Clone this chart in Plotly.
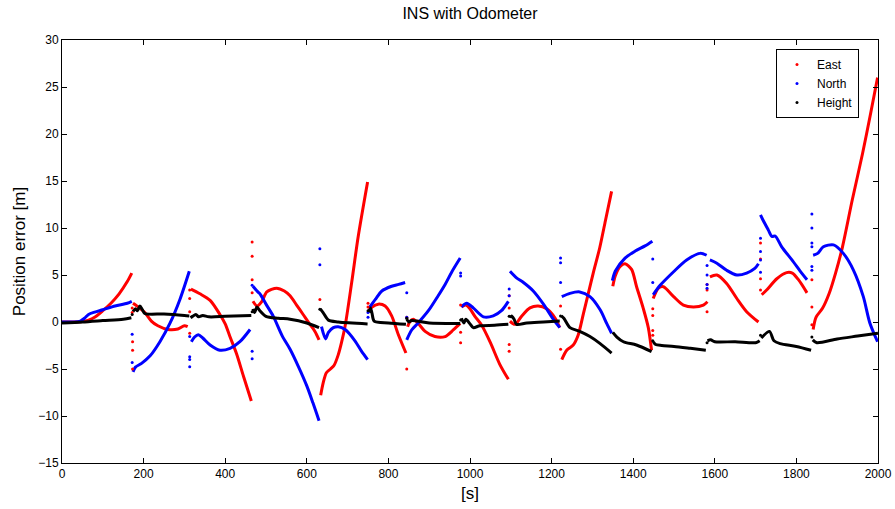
import plotly.graph_objects as go

N = None
# ---- East error (red): segments separated by None
east_t = [0, 25, 50, 65, 80, 100, 120, 140, 160, 171, N,
          174, 190, 203, 219, 235, 260, 284, 300, 308, N,
          316, 338, 363, 387, 400, 412, 428, 445, 464, N,
          468, 478, 490, 502, 526, 545, 559, 575, 591, 605, 620, 630, N,
          634, 640, 648, 658, 667, 677, 685, 694, 710, 726, 749, N,
          752, 760, 775, 792, 808, 824, 843, N,
          847, 852, 861, 873, 890, 914, 939, 959, 976, N,
          979, 990, 1000, 1012, 1028, 1050, 1073, 1094, N,
          1098, 1110, 1127, 1147, 1167, 1188, 1208, 1220, N,
          1225, 1237, 1253, 1265, 1278, 1290, 1302, 1318, 1332, 1347, N,
          1350, 1356, 1368, 1380, 1396, 1408, 1425, 1437, 1445, N,
          1449, 1462, 1474, 1499, 1523, 1548, 1572, 1582, N,
          1588, 1605, 1629, 1654, 1678, 1707, N,
          1715, 1727, 1752, 1776, 1790, 1805, 1826, N,
          1841, 1848, 1864, 1880, 1896, 1913, 1937, 1962, 1982, 1999]
east_v = [0, 0, 0.05, 0.2, 0.5, 1.2, 2.0, 3.0, 4.3, 5.2, N,
          2.0, 1.5, 1.0, 0.1, -0.4, -0.8, -0.75, -0.4, -0.5, N,
          3.5, 3.0, 2.3, 0.8, -0.2, -1.6, -3.4, -5.8, -8.4, N,
          2.2, 1.7, 2.2, 3.2, 3.6, 3.3, 2.8, 1.8, 0.8, -0.1, -1.0, -1.9, N,
          -7.8, -6.5, -5.4, -5.0, -4.6, -3.5, -2.2, -0.4, 4.2, 9.1, 14.9, N,
          1.2, 1.6, 1.9, 1.7, 0.65, -1.3, -3.3, N,
          -0.5, 0.0, 0.3, -0.15, -1.0, -1.55, -1.55, -0.85, -0.15, N,
          1.6, 1.8, 1.4, 0.6, -0.3, -2.2, -4.5, -6.1, N,
          0.1, -0.25, 0.65, 1.5, 1.7, 1.4, 0.45, -0.6, N,
          -4.0, -3.0, -2.45, -1.4, 0.9, 3.05, 5.2, 7.9, 10.8, 13.9, N,
          3.8, 4.9, 5.9, 6.2, 5.6, 3.8, 1.4, -0.6, -3.0, N,
          2.5, 3.6, 3.75, 2.7, 1.8, 1.6, 1.8, 2.15, N,
          4.8, 5.0, 4.1, 2.5, 1.1, 0.0, N,
          2.9, 3.4, 4.6, 5.25, 5.2, 4.5, 3.1, N,
          -0.8, 0.5, 1.45, 3.0, 5.2, 8.0, 13.0, 17.9, 22.2, 26.0]
# scattered East samples at the re-initialisation instants
east_jump_t = [172, 172, 173, 173, 173, 313, 313, 313, 313, 466, 466, 466, 466,
               632, 750, 750, 845, 845, 977, 977, 977, 1096, 1096, 1096, 1096,
               1222, 1222, 1448, 1448, 1448, 1448, 1581, 1581, 1581,
               1712, 1712, 1712, 1712, 1838, 1838, 1838]
east_jump_v = [1.5, 1.0, -2.1, -3.0, -5.0, 3.4, 2.5, 1.1, -1.2, 8.5, 7.0, 4.5, 3.1,
               2.4, 2.0, 1.6, -5.0, 0.5, 1.8, -1.1, -2.2, 2.8, 1.5, -2.4, -3.1,
               1.7, -2.9, 1.4, 0.7, -0.9, -1.4, 4.0, 3.4, 1.1,
               8.4, 6.7, 4.6, 3.4, 4.5, 1.6, -0.3]

# ---- North error (blue)
north_t = [0, 30, 45, 55, 65, 80, 100, 130, 160, 171, N,
           174, 180, 195, 216, 240, 265, 289, 312, N,
           317, 325, 334, 345, 363, 387, 412, 436, 461, N,
           468, 480, 485, 500, 518, 540, 559, 580, 600, 615, 630, N,
           636, 646, 653, 665, 677, 694, 718, 734, 749, N,
           753, 768, 784, 808, 825, 841, N,
           845, 857, 873, 898, 922, 939, 955, 976, N,
           979, 992, 1008, 1033, 1057, 1077, 1094, N,
           1098, 1114, 1131, 1155, 1180, 1204, 1220, N,
           1225, 1245, 1269, 1294, 1319, 1335, 1347, N,
           1349, 1356, 1380, 1405, 1429, 1447, N,
           1449, 1466, 1499, 1531, 1564, 1580, N,
           1588, 1605, 1629, 1654, 1678, 1698, 1707, N,
           1712, 1718, 1731, 1740, 1748, 1764, 1789, 1813, 1826, N,
           1841, 1852, 1866, 1891, 1915, 1940, 1964, 1980, 1999]
north_v = [0, 0, 0.1, 0.4, 0.8, 1.05, 1.3, 1.7, 2.0, 2.2, N,
           -5.3, -4.8, -4.4, -3.6, -2.1, -0.1, 2.4, 5.4, N,
           -2.1, -1.6, -1.35, -1.7, -2.45, -3.0, -2.8, -2.1, -0.8, N,
           3.8, 3.2, 3.0, 1.9, 0.6, -1.5, -2.9, -4.8, -6.8, -8.6, -10.5, N,
           -0.5, -1.8, -1.1, -0.6, -0.5, -0.8, -2.0, -3.1, -4.0, N,
           1.5, 2.4, 3.3, 3.8, 4.0, 4.2, N,
           -1.9, -0.85, -0.1, 1.2, 2.8, 4.0, 5.3, 6.8, N,
           1.6, 2.0, 1.5, 0.55, 0.65, 1.2, 2.2, N,
           5.4, 4.7, 4.2, 3.3, 1.9, 0.3, -0.6, N,
           2.7, 3.05, 3.2, 2.7, 1.3, -0.15, -1.2, N,
           4.4, 5.4, 6.8, 7.55, 8.1, 8.6, N,
           2.9, 3.9, 5.35, 6.6, 7.3, 7.1, N,
           6.6, 6.25, 5.5, 5.0, 5.2, 5.7, 6.2, N,
           11.4, 10.85, 9.8, 9.1, 9.15, 8.0, 6.6, 5.2, 4.5, N,
           7.1, 7.3, 8.0, 8.2, 7.3, 5.5, 2.7, -0.1, -2.1]
north_jump_t = [172, 172, 313, 313, 313, 313, 466, 466, 466, 632, 632,
                750, 750, 845, 845, 977, 977, 1096, 1096, 1222, 1222, 1222,
                1448, 1448, 1581, 1581, 1581, 1581, 1712, 1712, 1712, 1712,
                1838, 1838, 1838, 1838, 1838, 1838]
north_jump_v = [-1.3, -4.3, -1.55, -3.7, -4.0, -4.75, 3.9, -3.1, -3.9, 7.8, 6.1,
                1.0, 0.5, 3.1, 0.5, 5.2, 4.9, 3.5, 2.8, 6.8, 6.3, 4.2,
                6.7, 4.2, 6.0, 5.0, 4.0, 3.6, 8.9, 7.5, 6.6, 5.3,
                11.5, 10.0, 8.4, 8.0, 5.9, 5.5]

# ---- Height error (black)
height_t = [0, 50, 100, 150, 170, N,
            174, 180, 185, 191, 197, 203, 250, 300, 312, N,
            315, 320, 328, 335, 345, 360, 400, 464, N,
            468, 472, 478, 485, 500, 530, 559, 600, 630, N,
            633, 640, 653, 677, 749, N,
            752, 756, 760, 765, 800, 843, N,
            845, 850, 857, 870, 900, 976, N,
            979, 985, 990, 1000, 1008, 1024, 1060, 1094, N,
            1098, 1102, 1108, 1114, 1139, 1180, 1220, N,
            1224, 1230, 1245, 1269, 1294, 1319, 1347, N,
            1350, 1360, 1376, 1408, 1445, N,
            1449, 1455, 1470, 1500, 1540, 1578, N,
            1582, 1590, 1600, 1650, 1700, 1710, N,
            1714, 1734, 1745, 1760, 1800, 1836, N,
            1840, 1850, 1900, 1950, 2000]
height_v = [-0.1, 0.0, 0.15, 0.3, 0.45, N,
            1.1, 1.4, 1.2, 1.7, 1.3, 0.9, 0.85, 0.7, 0.65, N,
            0.45, 0.6, 0.8, 0.55, 0.7, 0.55, 0.6, 0.7, N,
            1.4, 1.0, 1.6, 1.2, 0.6, 0.4, 0.3, -0.1, -0.6, N,
            1.4, 1.0, 0.2, 0.0, -0.2, N,
            1.0, 1.5, 0.9, 0.1, -0.1, -0.25, N,
            0.3, 0.0, 0.15, 0.1, -0.1, -0.15, N,
            0.4, -0.1, 0.3, -0.2, -0.6, -0.4, -0.35, -0.25, N,
            0.45, 0.65, 0.3, -0.25, -0.1, 0.0, 0.1, N,
            0.65, 0.4, -0.6, -1.0, -1.55, -2.3, -3.3, N,
            -1.1, -1.6, -2.1, -2.45, -3.15, N,
            -2.1, -2.4, -2.5, -2.6, -2.8, -3.0, N,
            -2.0, -1.9, -2.1, -2.1, -2.2, -2.0, N,
            -1.7, -1.0, -2.0, -2.3, -2.6, -3.0, N,
            -1.9, -2.2, -1.8, -1.5, -1.2]
height_jump_t = [172, 466, 632, 750, 845, 977, 1096, 1222, 1448, 1581, 1712, 1838]
height_jump_v = [0.8, 1.1, 1.35, 1.2, 0.4, 0.2, 0.6, 0.65, -2.0, -2.2, -1.4, -1.6]

series = [
    ("East", "#ff0000", east_t, east_v, east_jump_t, east_jump_v),
    ("North", "#0000ff", north_t, north_v, north_jump_t, north_jump_v),
    ("Height", "#000000", height_t, height_v, height_jump_t, height_jump_v),
]

fig = go.Figure()
for name, col, t, v, jt, jv in series:
    fig.add_trace(go.Scatter(
        x=t, y=v, mode="lines", line=dict(color=col, width=3, shape="spline", smoothing=0.8),
        legendgroup=name, showlegend=False, hoverinfo="skip"))
for name, col, t, v, jt, jv in series:
    fig.add_trace(go.Scatter(
        x=jt, y=jv, mode="markers", name=name, legendgroup=name,
        marker=dict(color=col, size=3)))

font = "Liberation Sans, Arial, Helvetica, sans-serif"
axis_common = dict(showline=True, linecolor="black", linewidth=1, mirror="ticks",
                   ticks="inside", ticklen=5, tickcolor="black", showgrid=False,
                   zeroline=False, automargin=False,
                   tickfont=dict(size=12, color="black", family=font))
fig.update_layout(
    width=895, height=509,
    margin=dict(l=62, r=17, t=40, b=46, autoexpand=False),
    paper_bgcolor="white", plot_bgcolor="white",
    font=dict(family=font, color="black"),
    title=dict(text="INS with Odometer", x=(62 + 878) / 2 / 895, xanchor="center",
               y=1 - 13 / 509, yanchor="middle", font=dict(size=16, color="black"),
               automargin=False),
    xaxis=dict(range=[0, 2000], dtick=200, tick0=0,
               title=dict(text="[s]", font=dict(size=17), standoff=6), **axis_common),
    yaxis=dict(range=[-15, 30], dtick=5, tick0=-15,
               title=dict(text="Position error [m]", font=dict(size=17), standoff=8), **axis_common),
    legend=dict(x=0.9767, y=0.979, xanchor="right", yanchor="top",
                bordercolor="black", borderwidth=1, bgcolor="white",
                font=dict(size=12, color="black"), tracegroupgap=0, itemwidth=30),
    showlegend=True,
)
fig.write_html("out.html")
